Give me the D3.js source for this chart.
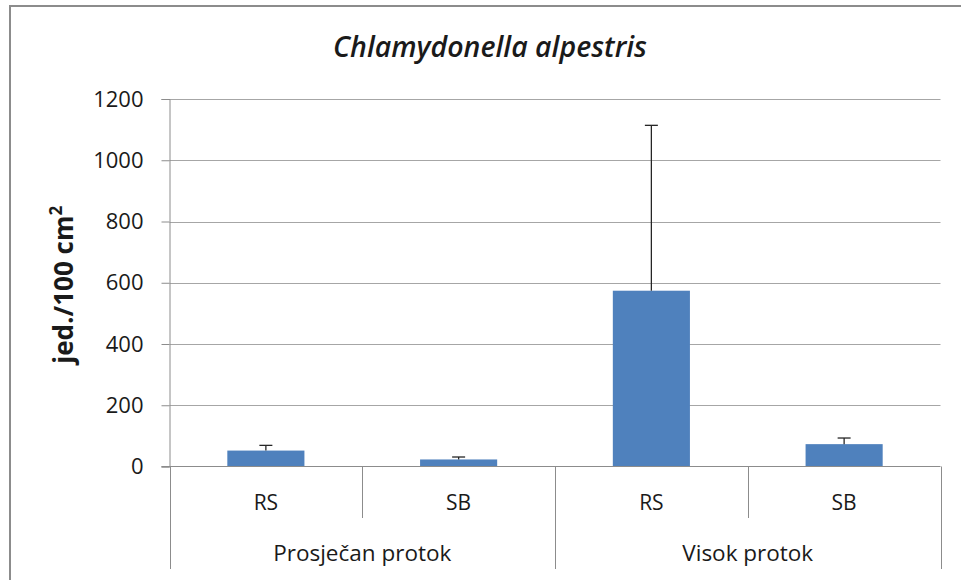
<!DOCTYPE html>
<html lang="hr">
<head>
<meta charset="UTF-8">
<title>Chlamydonella alpestris</title>
<script src="https://d3js.org/d3.v7.min.js"></script>
<style>
  body { margin: 0; background: #fff; }
  svg text { font-family: "Open Sans", "Liberation Sans", sans-serif; fill: #1a1a1a; }
</style>
</head>
<body>
<script>
// data
var groups = ["Prosječan protok", "Visok protok"];
var sites = ["RS", "SB"];
var means = [52, 23, 574, 73];      // order: group x site
var errors = [17, 8, 540, 20];
var yTicks = [0, 200, 400, 600, 800, 1000, 1200];

var width = 961, height = 580;
var pLeft = 169.5, pRight = 940.5, pTop = 99, pBottom = 466.5;

var svg = d3.select("body").append("svg")
    .attr("width", width)
    .attr("height", height);

// outer chart frame (cut off at right and bottom)
svg.append("rect")
    .attr("x", 10).attr("y", 6)
    .attr("width", 1000).attr("height", 700)
    .attr("fill", "none")
    .attr("stroke", "#8c8c8c")
    .attr("stroke-width", 2);

var keys = [];
groups.forEach(function(g) { sites.forEach(function(s) { keys.push(g + "|" + s); }); });

var x = d3.scaleBand().domain(keys).range([pLeft, pRight]);
var y = d3.scaleLinear().domain([0, 1200]).range([pBottom, pTop]);

// gridlines
svg.append("g").selectAll("line").data(yTicks.filter(function(d) { return d > 0; }))
  .enter().append("line")
    .attr("x1", pLeft).attr("x2", pRight)
    .attr("y1", function(d) { return Math.round(y(d)) + 0.5; })
    .attr("y2", function(d) { return Math.round(y(d)) + 0.5; })
    .attr("stroke", "#a6a6a6").attr("stroke-width", 1);

// y axis
var yAxis = d3.axisLeft(y).tickValues(yTicks).tickFormat(d3.format("d")).tickSize(8).tickPadding(18);
var ga = svg.append("g").attr("transform", "translate(" + pLeft + ",0)").call(yAxis);
ga.select(".domain").attr("stroke", "#8c8c8c");
ga.selectAll(".tick line").attr("stroke", "#8c8c8c");
ga.selectAll(".tick text")
    .attr("fill", "#262626")
    .attr("font-size", 22)
    .attr("font-family", "'Open Sans', sans-serif");

// bars
var data = keys.map(function(k, i) { return { key: k, v: means[i], e: errors[i] }; });
var bw = x.bandwidth() * 0.4;
svg.append("g").selectAll("rect").data(data).enter().append("rect")
    .attr("x", function(d) { return x(d.key) + (x.bandwidth() - bw) / 2; })
    .attr("y", function(d) { return y(d.v); })
    .attr("width", bw)
    .attr("height", function(d) { return y(0) - y(d.v); })
    .attr("fill", "#4f81bd");

// error bars (plus side only)
var eb = svg.append("g").attr("stroke", "#262626").attr("stroke-width", 1.3);
data.forEach(function(d) {
  var cx = x(d.key) + x.bandwidth() / 2;
  eb.append("line").attr("x1", cx).attr("x2", cx).attr("y1", y(d.v)).attr("y2", y(d.v + d.e));
  eb.append("line").attr("x1", cx - 6.5).attr("x2", cx + 6.5).attr("y1", y(d.v + d.e)).attr("y2", y(d.v + d.e));
});

// x axis baseline
svg.append("line").attr("x1", pLeft - 8).attr("x2", pRight)
    .attr("y1", pBottom).attr("y2", pBottom)
    .attr("stroke", "#8c8c8c");

// category dividers
var bounds = x.domain().map(function(k) { return x(k); }).concat([pRight]);
svg.append("g").selectAll("line").data(bounds).enter().append("line")
    .attr("x1", function(d) { return Math.round(d) + 0.5; })
    .attr("x2", function(d) { return Math.round(d) + 0.5; })
    .attr("y1", pBottom)
    .attr("y2", function(d, i) { return i % 2 === 0 ? 569 : 518; })
    .attr("stroke", "#8c8c8c");

// site labels
svg.append("g").selectAll("text").data(keys).enter().append("text")
    .attr("x", function(k) { return x(k) + x.bandwidth() / 2; })
    .attr("y", 510)
    .attr("text-anchor", "middle")
    .attr("font-size", 21)
    .text(function(k) { return k.split("|")[1]; });

// group labels
svg.append("g").selectAll("text").data(groups).enter().append("text")
    .attr("x", function(g) { return x(g + "|" + sites[0]) + x.bandwidth(); })
    .attr("y", 561)
    .attr("text-anchor", "middle")
    .attr("font-size", 22.5)
    .text(function(g) { return g; });

// title
svg.append("text")
    .attr("x", 490).attr("y", 57)
    .attr("text-anchor", "middle")
    .attr("font-size", 28.5)
    .attr("font-style", "italic")
    .attr("font-weight", 600)
    .text("Chlamydonella alpestris");

// y label
var yl = svg.append("text")
    .attr("transform", "translate(73," + ((pTop + pBottom) / 2 + 2) + ") rotate(-90)")
    .attr("text-anchor", "middle")
    .attr("font-size", 26)
    .attr("font-weight", "bold");
yl.append("tspan").text("jed./100 cm");
yl.append("tspan").attr("dy", -11).attr("font-size", 17).text("2");
</script>
</body>
</html>
